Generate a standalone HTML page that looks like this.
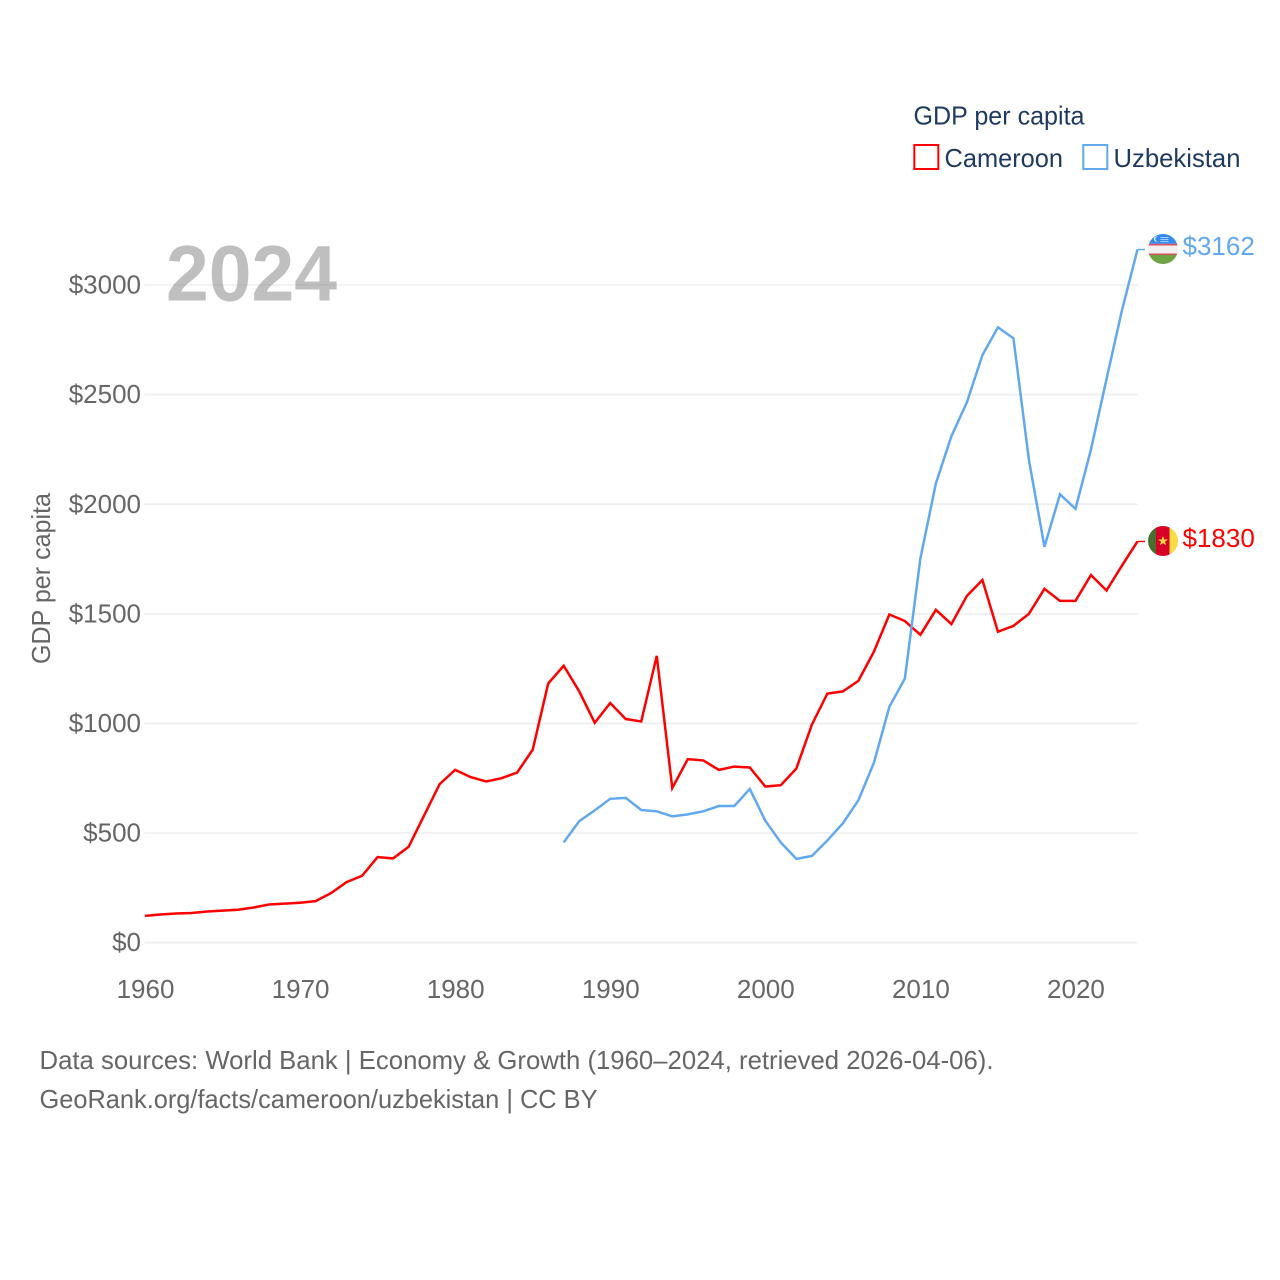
<!DOCTYPE html>
<html lang="en">
<head>
<meta charset="utf-8">
<title>GDP per capita: Cameroon and Uzbekistan</title>
<style>
html,body{margin:0;padding:0;background:#fff;}
svg{display:block;font-family:"Liberation Sans",sans-serif;}
</style>
</head>
<body>
<svg id="chart" xmlns="http://www.w3.org/2000/svg" width="1280" height="1280" viewBox="0 0 1280 1280">
  <defs>
    <clipPath id="flag-clip"><circle cx="0" cy="0" r="15"></circle></clipPath>
  </defs>
  <rect x="0" y="0" width="1280" height="1280" fill="#ffffff"></rect>
  <g id="grid"></g>
  <g id="yticks"></g>
  <g id="xticks"></g>
  <text transform="translate(50,664) rotate(-90)" font-size="26" fill="#666666" textLength="171" lengthAdjust="spacingAndGlyphs">GDP per capita</text>
  <text x="166" y="300.5" font-size="79" font-weight="700" fill="#808080" fill-opacity="0.5" textLength="171" lengthAdjust="spacingAndGlyphs">2024</text>
  <g id="series"></g>

  <g id="flag-uzbekistan">
    <g clip-path="url(#flag-clip)">
      <rect x="-15" y="-15" width="30" height="9.800" fill="#338af3"></rect>
      <rect x="-15" y="-5.200" width="30" height="1.700" fill="#d8505f"></rect>
      <rect x="-15" y="-3.500" width="30" height="8" fill="#f0f0f0"></rect>
      <rect x="-15" y="4.500" width="30" height="1.500" fill="#d8505f"></rect>
      <rect x="-15" y="6" width="30" height="9.200" fill="#6da544"></rect>
      <circle cx="-6.500" cy="-10" r="2.600" fill="#f0f0f0"></circle>
      <circle cx="-5.500" cy="-10" r="2.200" fill="#338af3"></circle>
      <rect x="-2.500" y="-12" width="8" height="1" fill="#a9cdf8"></rect>
      <rect x="-2.500" y="-10" width="8" height="1" fill="#a9cdf8"></rect>
      <rect x="-2.500" y="-8" width="8" height="1" fill="#a9cdf8"></rect>
    </g>
  </g>
  <g id="flag-cameroon">
    <g clip-path="url(#flag-clip)">
      <rect x="-15" y="-15" width="8" height="30" fill="#496e2d"></rect>
      <rect x="-7" y="-15" width="13.500" height="30" fill="#d80027"></rect>
      <rect x="6.500" y="-15" width="9" height="30" fill="#ffda44"></rect>
      <polygon points="0,-5 1.300,-1.500 5,-1.500 2,0.700 3.100,4.300 0,2.200 -3.100,4.300 -2,0.700 -5,-1.500 -1.300,-1.500" fill="#ffda44"></polygon>
    </g>
  </g>
  <g id="end-labels"></g>

  <g>
    <text x="913.500" y="124.500" font-size="26" fill="#1e3a5f" textLength="171" lengthAdjust="spacingAndGlyphs">GDP per capita</text>
    <g>
      <rect x="914.300" y="145" width="24" height="24" fill="none" stroke="#ff0000" stroke-width="2"></rect>
      <text x="944.500" y="167" font-size="26" fill="#1e3a5f" textLength="118.500" lengthAdjust="spacingAndGlyphs">Cameroon</text>
    </g>
    <g>
      <rect x="1083.300" y="145" width="24" height="24" fill="none" stroke="#62a8ee" stroke-width="2"></rect>
      <text x="1113.500" y="167" font-size="26" fill="#1e3a5f" textLength="127" lengthAdjust="spacingAndGlyphs">Uzbekistan</text>
    </g>
  </g>

  <text x="39.500" y="1069" font-size="26" fill="#666666" textLength="954" lengthAdjust="spacingAndGlyphs">Data sources: World Bank | Economy &amp; Growth (1960–2024, retrieved 2026-04-06).</text>
  <text x="39.500" y="1108" font-size="26" fill="#666666" textLength="558" lengthAdjust="spacingAndGlyphs">GeoRank.org/facts/cameroon/uzbekistan | CC BY</text>
</svg>
<script>
const years = [1960,1961,1962,1963,1964,1965,1966,1967,1968,1969,1970,1971,1972,1973,1974,1975,1976,1977,1978,1979,1980,1981,1982,1983,1984,1985,1986,1987,1988,1989,1990,1991,1992,1993,1994,1995,1996,1997,1998,1999,2000,2001,2002,2003,2004,2005,2006,2007,2008,2009,2010,2011,2012,2013,2014,2015,2016,2017,2018,2019,2020,2021,2022,2023,2024];
const cameroonValues = [122,128,133,135,142,146,150,160,174,178,182,189,226,276,305,390,384,437,580,723,788,755,735,750,776,880,1182,1263,1146,1003,1093,1020,1009,1308,705,837,831,788,803,799,712,718,794,994,1136,1146,1194,1327,1497,1467,1404,1518,1453,1582,1654,1418,1445,1500,1614,1559,1559,1677,1606,1720,1830];
const uzbekistanValues = [null,null,null,null,null,null,null,null,null,null,null,null,null,null,null,null,null,null,null,null,null,null,null,null,null,null,null,457,554,603,656,660,605,599,576,585,599,623,623,701,556,457,382,395,466,544,649,820,1076,1205,1753,2095,2310,2465,2680,2807,2757,2201,1806,2045,1979,2250,2570,2885,3162];
const yTickValues = [0,500,1000,1500,2000,2500,3000];
const xTickValues = [1960,1970,1980,1990,2000,2010,2020];

const SVG_NS = 'http://www.w3.org/2000/svg';
const plot = { left: 145, right: 1137.5, zeroY: 942.6, perDollar: 0.2192 };
const firstYear = years[0];
const lastYear = years[years.length - 1];

function xScale(year) {
  return plot.left + (year - firstYear) * (plot.right - plot.left) / (lastYear - firstYear);
}
function yScale(value) {
  return plot.zeroY - value * plot.perDollar;
}
function make(tag, attrs, text) {
  const el = document.createElementNS(SVG_NS, tag);
  Object.keys(attrs).forEach(function (k) { el.setAttribute(k, attrs[k]); });
  if (text !== undefined) el.textContent = text;
  return el;
}

const gridGroup = document.getElementById('grid');
const yGroup = document.getElementById('yticks');
yTickValues.forEach(function (v) {
  const line = make('line', { x1: 144.5, x2: plot.right, y1: yScale(v), y2: yScale(v), stroke: '#eeeeee', 'stroke-width': 1.6 });
  
  
  gridGroup.appendChild(line);
  const label = make('text', { x: 141, y: yScale(v) + 8.6, 'text-anchor': 'end', 'font-size': 26, fill: '#666666' }, '$' + v);
  
  
  yGroup.appendChild(label);
});

const xGroup = document.getElementById('xticks');
xTickValues.forEach(function (yr) {
  const label = make('text', { x: xScale(yr) + 0.5, y: 998, 'text-anchor': 'middle', 'font-size': 26, fill: '#666666' }, String(yr));
  
  
  xGroup.appendChild(label);
});

function buildPath(values) {
  let d = '';
  values.forEach(function (v, i) {
    if (v === null) return;
    d += (d === '' ? 'M' : 'L') + xScale(years[i]).toFixed(2) + ' ' + yScale(v).toFixed(2);
  });
  return d;
}

const seriesGroup = document.getElementById('series');
const endGroup = document.getElementById('end-labels');

function drawSeries(key, values, color, flagId) {
  const path = make('path', { d: buildPath(values), fill: 'none', stroke: color, 'stroke-width': 2.5, 'stroke-linejoin': 'miter' });
  
  
  seriesGroup.appendChild(path);

  const last = values[values.length - 1];
  const endY = yScale(last);
  const tail = make('line', { x1: plot.right, x2: 1145, y1: endY, y2: endY, stroke: color, 'stroke-width': 1.4 });
  
  
  seriesGroup.appendChild(tail);

  document.getElementById(flagId).setAttribute('transform', 'translate(1163,' + (endY - 0.5).toFixed(2) + ')');

  const label = make('text', { x: 1182.5, y: endY + 5.6, 'font-size': 26, fill: color }, '$' + last);
  
  
  endGroup.appendChild(label);
}

drawSeries('cameroon', cameroonValues, '#ff0000', 'flag-cameroon');
drawSeries('uzbekistan', uzbekistanValues, '#62a8ee', 'flag-uzbekistan');
</script>
</body>
</html>
